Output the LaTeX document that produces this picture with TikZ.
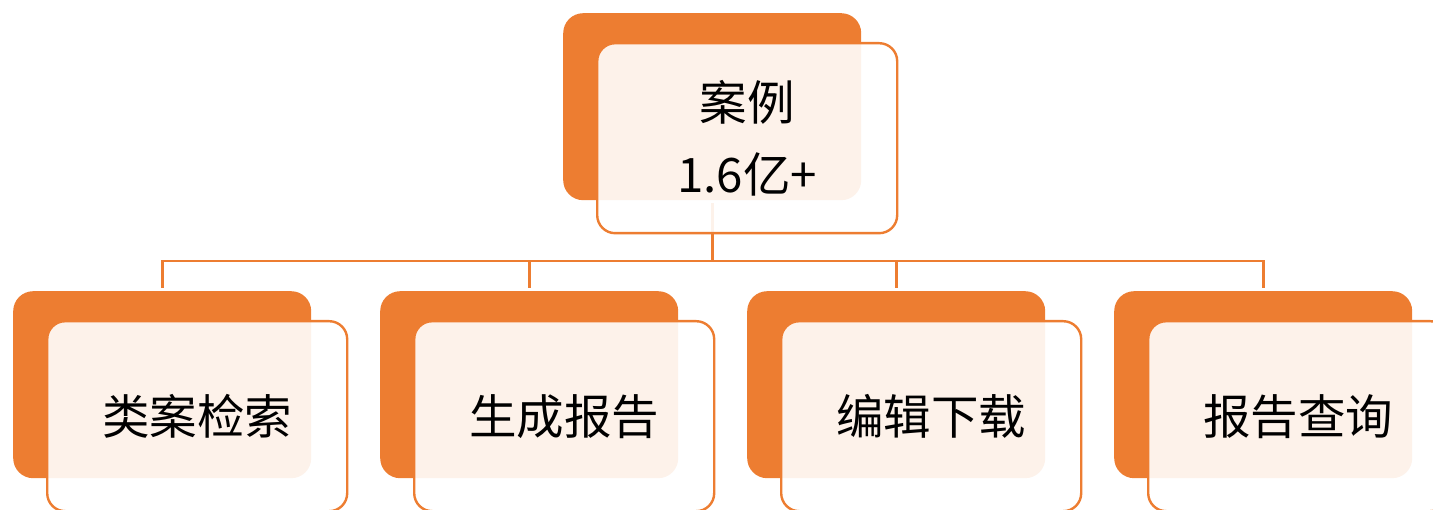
\documentclass[tikz,border=0pt]{standalone}
\usepackage{fontspec}
\newfontfamily\cjk{Noto Sans CJK SC}
\definecolor{accent}{HTML}{ED7D31}
\tikzset{
  backbox/.style={fill=accent, rounded corners=20pt, minimum width=298pt, minimum height=187pt, inner sep=0pt, anchor=north west},
  frontbox/.style={draw=accent, line width=2.4pt, fill=white, fill opacity=0.9, text opacity=1, rounded corners=18pt, minimum width=300pt, minimum height=190pt, inner sep=0pt, anchor=north west, align=center, font=\cjk\fontsize{47.5}{72}\selectfont},
  link/.style={draw=accent, line width=2.7pt}
}
\begin{document}
\begin{tikzpicture}[x=1pt,y=-1pt]
\useasboundingbox (0,0) rectangle (1433,510);
% back boxes
\node[backbox] (tb) at (563,13) {};
\node[backbox] (b1) at (13,291) {};
\node[backbox] (b2) at (380,291) {};
\node[backbox] (b3) at (747,291) {};
\node[backbox] (b4) at (1114,291) {};
% connectors
\coordinate (bus) at (0,261);
\draw[link, shorten <=3pt] (tb.south) -- (tb.south |- bus);
\draw[link, line cap=rect] (b1.north |- bus) -- (b4.north |- bus);
\draw[link, shorten >=3pt] (b1.north |- bus) -- (b1.north);
\draw[link, shorten >=3pt] (b2.north |- bus) -- (b2.north);
\draw[link, shorten >=3pt] (b3.north |- bus) -- (b3.north);
\draw[link, shorten >=3pt] (b4.north |- bus) -- (b4.north);
% front boxes
\node[frontbox] (tf) at (596,42) {\raisebox{3pt}{案例}\\\raisebox{3pt}{1.6亿+}};
\node[frontbox] (f1) at (46,320) {类案检索};
\node[frontbox] (f2) at (413,320) {生成报告};
\node[frontbox] (f3) at (780,320) {编辑下载};
\node[frontbox] (f4) at (1147,320) {报告查询};
\end{tikzpicture}
\end{document}
